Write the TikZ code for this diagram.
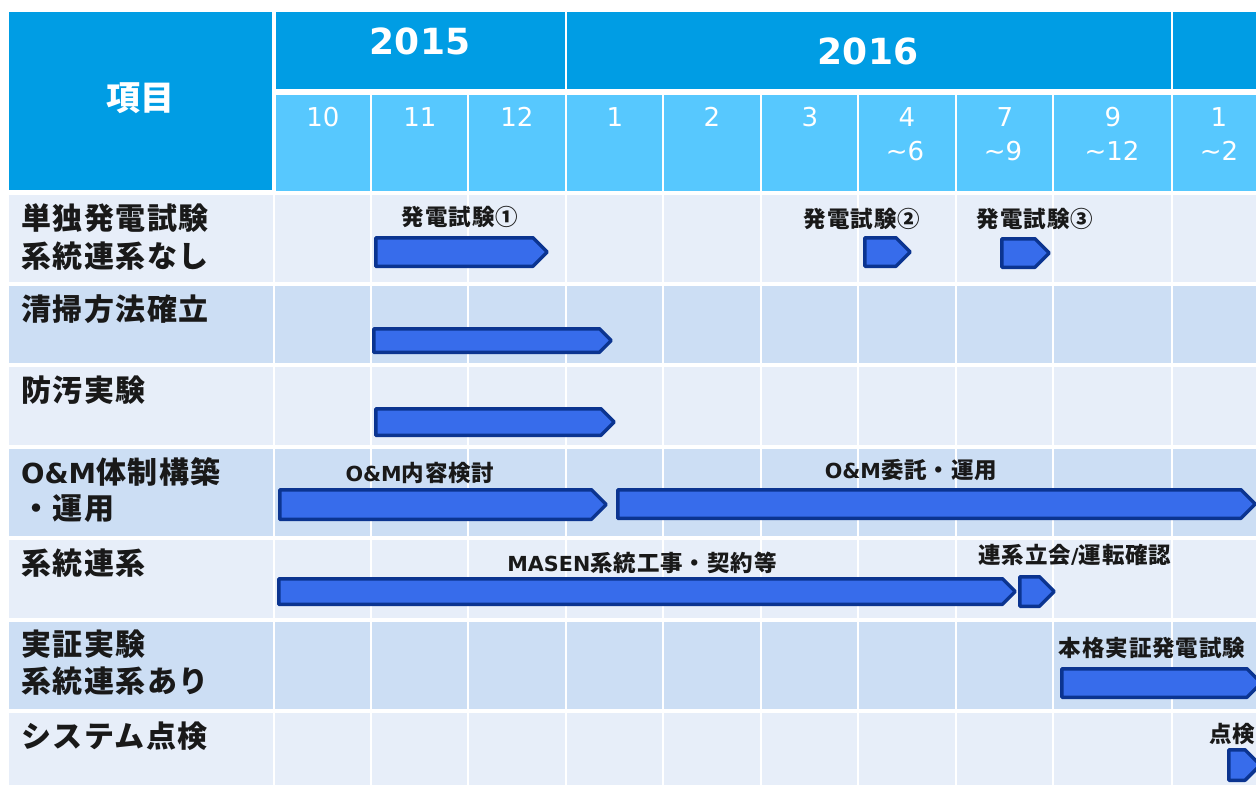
\documentclass[tikz,border=0pt]{standalone}
\usepackage{fontspec}
\newfontfamily\jp{Noto Sans CJK JP}
\newfontfamily\jprow[LetterSpace=5]{Noto Sans CJK JP}
\newfontfamily\jpbar[LetterSpace=4]{Noto Sans CJK JP}
\newfontfamily\dv{DejaVu Sans}
\newfontfamily\lt[Scale=0.92]{DejaVu Sans}
\definecolor{yearblue}{RGB}{0,157,228}
\definecolor{monthblue}{RGB}{87,200,254}
\definecolor{rowlight}{RGB}{231,238,249}
\definecolor{rowdark}{RGB}{204,222,244}
\definecolor{barfill}{RGB}{55,108,235}
\definecolor{barline}{RGB}{11,52,144}
\newcommand\Lt[1]{{\lt\bfseries #1}}
\newcommand\gbar[4]{%
  \draw[ganttbar] ({#1+1.75},{#3+1.75}) -- ({#2-1.75-(#4-#3-3.5)/2},{#3+1.75})
    -- ({#2-1.75},{(#3+#4)/2}) -- ({#2-1.75-(#4-#3-3.5)/2},{#4-1.75})
    -- ({#1+1.75},{#4-1.75}) -- cycle;}
\tikzset{
  ganttbar/.style={fill=barfill, draw=barline, line width=3.5pt, line join=round},
  gridline/.style={white, line width=2.6pt},
  rowlabel/.style={anchor=west, inner sep=0pt, font=\jprow\bfseries\fontsize{30}{34}\selectfont, text=black!90},
  barlabel/.style={inner sep=0pt, font=\jpbar\bfseries\fontsize{22.5}{26}\selectfont, text=black!90},
  monthlabel/.style={inner sep=0pt, align=center, font=\dv\fontsize{26}{34}\selectfont, text=white},
  yearlabel/.style={inner sep=0pt, font=\dv\bfseries\fontsize{36}{40}\selectfont, text=white},
}
\begin{document}
\begin{tikzpicture}[x=1pt,y=-1pt]
\useasboundingbox (0,0) rectangle (1256,785);
\clip (0,0) rectangle (1256,785);
\fill[white] (0,0) rectangle (1256,785);
% header
\fill[yearblue] (9,12) rectangle (272,190);
\fill[yearblue] (276,12) rectangle (1256,89);
\fill[monthblue] (276,95) rectangle (1256,191);
\draw[gridline] (566,12) -- (566,91);
\draw[gridline] (1172,12) -- (1172,91);
\foreach \x in {371,468,566,663,761,858,956,1053,1172}
  \draw[gridline] (\x,93) -- (\x,193);
% rows
\fill[rowlight] (9,195) rectangle (1256,282);
\fill[rowdark]  (9,286) rectangle (1256,363);
\fill[rowlight] (9,367) rectangle (1256,445);
\fill[rowdark]  (9,449) rectangle (1256,536);
\fill[rowlight] (9,540) rectangle (1256,618);
\fill[rowdark]  (9,622) rectangle (1256,709);
\fill[rowlight] (9,713) rectangle (1256,785);
\foreach \x in {274,371,468,566,663,761,858,956,1053,1172}
  \draw[gridline] (\x,193) -- (\x,785);
% header texts
\node[inner sep=0pt, font=\jp\bfseries\fontsize{34}{38}\selectfont, text=white] (hd) at (140,98) {項目};
\node[yearlabel] (y15) at (420,41) {2015};
\node[yearlabel] (y16) at (868,51) {2016};
\node[monthlabel] (m10) at (323,117) {10};
\node[monthlabel] (m11) at (420,117) {11};
\node[monthlabel] (m12) at (517,117) {12};
\node[monthlabel] (m1) at (615,117) {1};
\node[monthlabel] (m2) at (712,117) {2};
\node[monthlabel] (m3) at (810,117) {3};
\node[monthlabel] (m4) at (907,117) {4};
\node[monthlabel] (m4b) at (905,151) {\textasciitilde6};
\node[monthlabel] (m7) at (1005,117) {7};
\node[monthlabel] (m7b) at (1003,151) {\textasciitilde9};
\node[monthlabel] (m9) at (1113,117) {9};
\node[monthlabel] (m9b) at (1112,151) {\textasciitilde12};
\node[monthlabel] (m1n) at (1219,117) {1};
\node[monthlabel] (m1nb) at (1219,151) {\textasciitilde2};
% row labels
\node[rowlabel] (r1a) at (21,218) {単独発電試験};
\node[rowlabel] (r1b) at (21,256) {系統連系なし};
\node[rowlabel] (r2) at (21,309) {清掃方法確立};
\node[rowlabel] (r3) at (21,390) {防汚実験};
\node[rowlabel] (r4a) at (21,472) {\Lt{O\&M}体制構築};
\node[rowlabel] (r4b) at (21,509) {・運用};
\node[rowlabel] (r5) at (21,563) {系統連系};
\node[rowlabel] (r6a) at (21,644) {実証実験};
\node[rowlabel] (r6b) at (21,681) {系統連系あり};
\node[rowlabel] (r7) at (21,736) {システム点検};
% bars
\gbar{374}{549}{236}{268}
\gbar{863}{912}{236}{268}
\gbar{1000}{1051}{237}{269}
\gbar{372}{613}{327}{354}
\gbar{374}{616}{407}{437}
\gbar{278}{608}{488}{521}
\gbar{616}{1257}{488}{520}
\gbar{277}{1017}{577}{606}
\gbar{1018}{1056}{575}{608}
\gbar{1060}{1263}{667}{699}
\gbar{1227}{1262}{748}{782}
% bar labels
\node[barlabel] (l1) at (460,217) {発電試験①};
\node[barlabel] (l2) at (862,219) {発電試験②};
\node[barlabel] (l3) at (1035,219) {発電試験③};
\node[barlabel] (l4) at (420,473) {\Lt{O\&M}内容検討};
\node[barlabel] (l5) at (911,470) {\Lt{O\&M}委託・運用};
\node[barlabel] (l6) at (642,563) {\Lt{MASEN}系統工事・契約等};
\node[barlabel] (l7) at (1075,555) {連系立会\Lt{/}運転確認};
\node[barlabel] (l8) at (1152,648) {本格実証発電試験};
\node[barlabel, anchor=west] (l9) at (1209,734) {点検};
\end{tikzpicture}
\end{document}
